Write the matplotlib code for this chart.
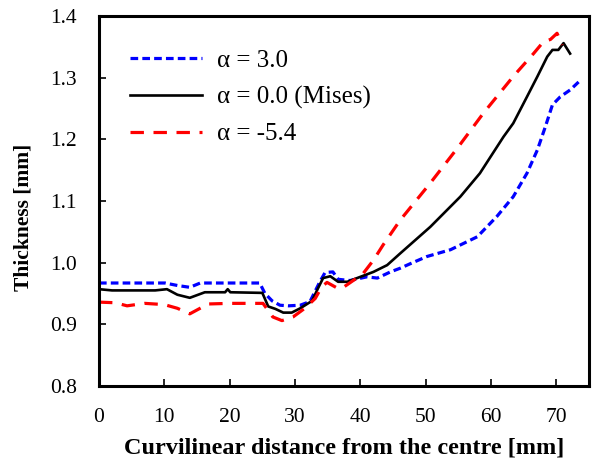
import matplotlib
matplotlib.use("Agg")
import matplotlib.pyplot as plt
from matplotlib.ticker import FormatStrFormatter

plt.rcParams['font.family'] = ['Liberation Serif', 'DejaVu Serif']
plt.rcParams['mathtext.fontset'] = 'stix'

# alpha = 3.0 (blue)
x_a3 = [0, 5, 10.1, 12, 13.9, 15.5, 20, 24.6, 25.4, 26.5, 27.7, 29, 30.8, 32.3, 33.8, 34.6,
        35.8, 36.6, 38.4, 41, 42.6, 44.6, 46.1, 48, 50.2, 53.8, 57.9, 60.9, 63.4, 65.5, 67.1,
        68.3, 69.4, 70.6, 72.1, 73.4]
y_a3 = [0.967, 0.967, 0.967, 0.963, 0.960, 0.967, 0.967, 0.967, 0.950, 0.938, 0.931, 0.930, 0.931, 0.937, 0.969, 0.984,
        0.985, 0.973, 0.971, 0.977, 0.975, 0.985, 0.991, 1.000, 1.010, 1.021, 1.042, 1.075, 1.107, 1.145, 1.183,
        1.220, 1.256, 1.269, 1.280, 1.293]

# alpha = 0.0 (Mises, black)
x_a0 = [0, 2, 8.6, 10.4, 12, 13.9, 16.2, 19.3, 19.7, 20.1, 25, 25.9, 27, 28.2, 29.5, 30.8, 32.6,
        33.5, 34.3, 35.4, 36.6, 38, 39.5, 42, 44.1, 46.1, 50.7, 55.3, 58.3, 61.9, 63.4, 65.5,
        67.1, 68.6, 69.4, 70.3, 71.1, 72.1]
y_a0 = [0.957, 0.955, 0.955, 0.957, 0.948, 0.943, 0.952, 0.952, 0.957, 0.952, 0.951, 0.929, 0.925, 0.919, 0.919, 0.926, 0.938,
        0.958, 0.975, 0.978, 0.969, 0.969, 0.975, 0.985, 0.996, 1.015, 1.058, 1.107, 1.145, 1.204, 1.226, 1.269,
        1.302, 1.334, 1.345, 1.345, 1.356, 1.339]

# alpha = -5.4 (red)
x_m54 = [0, 2.5, 4.3, 7, 10, 12, 13.9, 16.7, 20, 25.1, 26.6, 28, 29.7, 31.5, 33.1, 34.1, 34.9,
         36.6, 37.4, 38.9, 40.4, 42, 43.5, 46.1, 50.7, 54.8, 58.8, 63.4, 66.5, 68, 69.1, 70.1, 70.9]
y_m54 = [0.936, 0.935, 0.930, 0.934, 0.932, 0.926, 0.917, 0.933, 0.934, 0.934, 0.912, 0.906, 0.912, 0.926, 0.942, 0.961, 0.968,
         0.958, 0.960, 0.971, 0.982, 1.004, 1.029, 1.069, 1.129, 1.185, 1.242, 1.302, 1.339, 1.358, 1.362, 1.372, 1.353]

x_ticks = [0, 10, 20, 30, 40, 50, 60, 70]
y_ticks = [0.8, 0.9, 1.0, 1.1, 1.2, 1.3, 1.4]
labels = ['α = 3.0', 'α = 0.0 (Mises)', 'α = -5.4']

fig = plt.figure(figsize=(5.92, 4.61), dpi=100)
ax = fig.add_axes([0.1672, 0.1627, 0.8278, 0.8026])

ax.plot(x_a3, y_a3, color='#0000ff', lw=2.3, dashes=(2.4, 1.3), label=labels[0])
ax.plot(x_a0, y_a0, color='black', lw=1.9, label=labels[1])
ax.plot(x_m54, y_m54, color='#ff0000', lw=2.3, dashes=(4.2, 3.0), label=labels[2])

ax.set_xlim(0, 75)
ax.set_ylim(0.8, 1.4)
ax.set_xticks(x_ticks)
ax.set_yticks(y_ticks)
ax.yaxis.set_major_formatter(FormatStrFormatter('%.1f'))
ax.tick_params(direction='in', length=5, width=1.2, labelsize=15.5)
ax.tick_params(axis='y', pad=16)
ax.tick_params(axis='x', pad=16)
for s in ax.spines.values():
    s.set_linewidth(2.2)

ax.set_xlabel('Curvilinear distance from the centre [mm]', fontsize=17.5, fontweight='bold')
ax.xaxis.set_label_coords(0.5, -0.138)
ax.set_ylabel('Thickness [mm]', fontsize=15.5, fontweight='bold')
ax.yaxis.set_label_coords(-0.133, 0.457)

leg = ax.legend(loc='upper left', bbox_to_anchor=(0.063, 0.909), frameon=False, fontsize=18,
                handlelength=2.9, handletextpad=0.6, labelspacing=0.55, borderaxespad=0,
                borderpad=0)

fig.savefig('out.png', dpi=100)
